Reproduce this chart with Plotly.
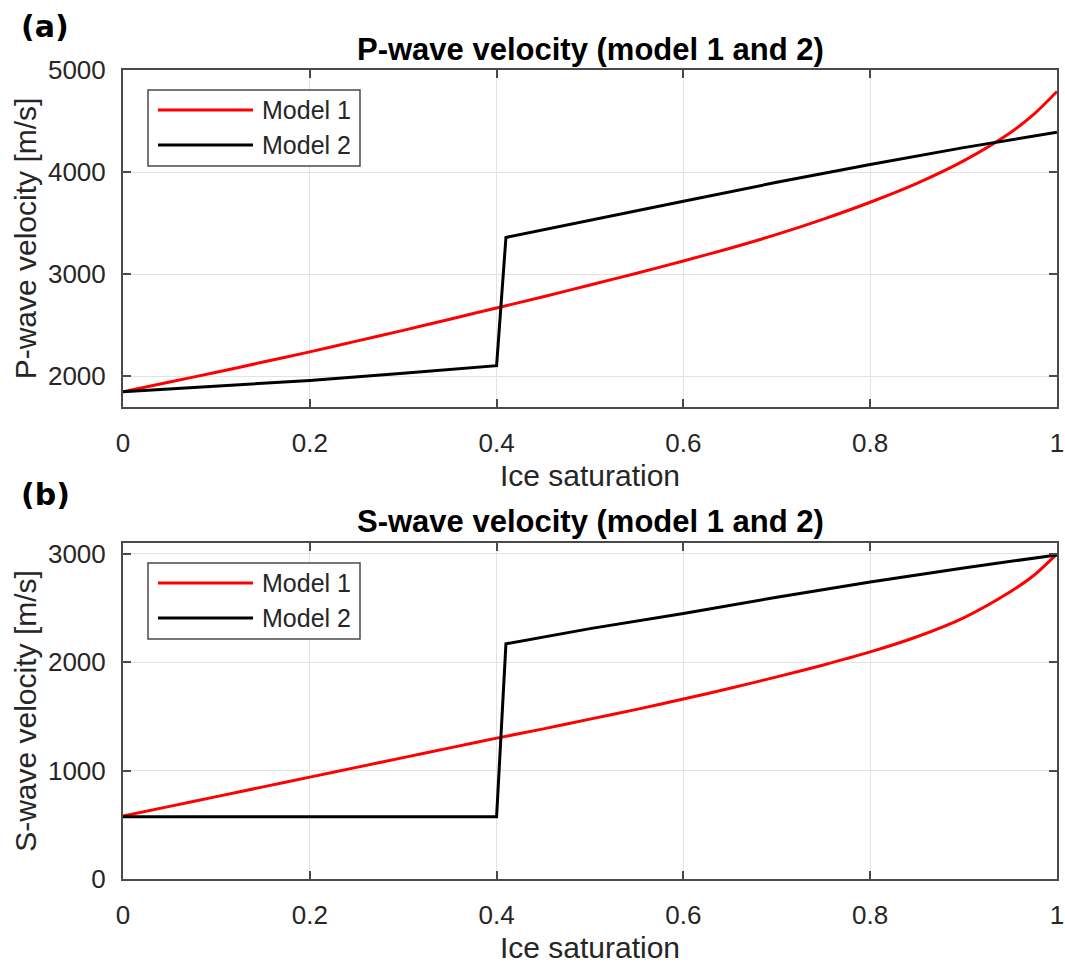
import plotly.graph_objects as go

# ---------------- data ----------------
sat_m1 = [0, 0.05, 0.1, 0.15, 0.2, 0.25, 0.3, 0.35, 0.4, 0.45, 0.5, 0.55, 0.6, 0.65,
          0.7, 0.75, 0.8, 0.85, 0.9, 0.95, 0.975, 1.0]
vp_m1 = [1850, 1945, 2040, 2140, 2240, 2345, 2450, 2560, 2670, 2780, 2895, 3010, 3130, 3255,
         3390, 3540, 3705, 3890, 4110, 4385, 4565, 4790]
vs_m1 = [580, 670, 760, 850, 940, 1030, 1120, 1210, 1300, 1385, 1475, 1565, 1660, 1760,
         1865, 1975, 2095, 2235, 2410, 2650, 2800, 3000]

sat_m2 = [0, 0.1, 0.2, 0.3, 0.4, 0.41, 0.5, 0.6, 0.7, 0.8, 0.9, 1.0]
vp_m2 = [1850, 1905, 1960, 2030, 2105, 3360, 3530, 3715, 3900, 4075, 4240, 4390]
vs_m2 = [575, 575, 575, 575, 575, 2170, 2310, 2450, 2600, 2740, 2870, 2990]

series_names = ["Model 1", "Model 2"]
x_ticks = [0, 0.2, 0.4, 0.6, 0.8, 1]
x_ticklabels = ["0", "0.2", "0.4", "0.6", "0.8", "1"]
p_ticks = [2000, 3000, 4000, 5000]
s_ticks = [0, 1000, 2000, 3000]

W, H = 1065, 965
FONT = "Liberation Sans, Arial, Helvetica, sans-serif"
TXT = "#262626"
AX = "#4a4a4a"
RED = "#ff0000"
BLK = "#000000"


def px(x):
    return x / W


def py(y):
    return 1 - y / H


fig = go.Figure()
fig.add_trace(go.Scatter(x=sat_m1, y=vp_m1, mode="lines", name=series_names[0],
                         line=dict(color=RED, width=3, shape="spline", smoothing=0.8),
                         xaxis="x", yaxis="y", showlegend=False))
fig.add_trace(go.Scatter(x=sat_m2, y=vp_m2, mode="lines", name=series_names[1],
                         line=dict(color=BLK, width=3),
                         xaxis="x", yaxis="y", showlegend=False))
fig.add_trace(go.Scatter(x=sat_m1, y=vs_m1, mode="lines", name=series_names[0],
                         line=dict(color=RED, width=3, shape="spline", smoothing=0.8),
                         xaxis="x2", yaxis="y2", showlegend=False))
fig.add_trace(go.Scatter(x=sat_m2, y=vs_m2, mode="lines", name=series_names[1],
                         line=dict(color=BLK, width=3),
                         xaxis="x2", yaxis="y2", showlegend=False))

xdom = [px(123), px(1057)]
axis_common = dict(
    automargin=False,
    showline=True, linecolor=AX, linewidth=2, mirror="ticks",
    ticks="inside", ticklen=8, tickwidth=1.5, tickcolor=AX,
    showgrid=True, gridcolor="#e3e3e3", gridwidth=1,
    zeroline=False,
    ticklabeloverflow="allow",
    tickfont=dict(family=FONT, size=26, color=TXT),
)

fig.update_layout(
    width=W, height=H,
    margin=dict(l=0, r=0, t=0, b=0, autoexpand=False),
    showlegend=False,
    paper_bgcolor="white", plot_bgcolor="white",
    xaxis=dict(domain=xdom, anchor="y", range=[0, 1.00001], tickvals=x_ticks,
               ticktext=x_ticklabels, ticklabelstandoff=12,
               title=dict(text="Ice saturation", font=dict(family=FONT, size=30, color=TXT), standoff=8),
               **axis_common),
    yaxis=dict(domain=[py(407), py(70)], anchor="x", range=[1700, 5000], tickvals=p_ticks,
               ticklabelstandoff=10,
               title=dict(text="P-wave velocity [m/s]", font=dict(family=FONT, size=30, color=TXT), standoff=2),
               **axis_common),
    xaxis2=dict(domain=xdom, anchor="y2", range=[0, 1.00001], tickvals=x_ticks,
                ticktext=x_ticklabels, ticklabelstandoff=12,
                title=dict(text="Ice saturation", font=dict(family=FONT, size=30, color=TXT), standoff=8),
                **axis_common),
    yaxis2=dict(domain=[py(879), py(543)], anchor="x2", range=[0, 3100], tickvals=s_ticks,
                ticklabelstandoff=10,
                title=dict(text="S-wave velocity [m/s]", font=dict(family=FONT, size=30, color=TXT), standoff=2),
                **axis_common),
)

annotations = []
shapes = []

# panel titles
for text, yc in [("P-wave velocity (model 1 and 2)", 49), ("S-wave velocity (model 1 and 2)", 521)]:
    annotations.append(dict(text="<b>%s</b>" % text, x=px(590), y=py(yc), xref="paper", yref="paper",
                            xanchor="center", yanchor="middle", showarrow=False,
                            font=dict(family=FONT, size=31, color="#000000")))

# panel labels
for text, yc in [("(a)", 26), ("(b)", 494)]:
    annotations.append(dict(text="<b>%s</b>" % text, x=px(19), y=py(yc), xref="paper", yref="paper",
                            xanchor="left", yanchor="middle", showarrow=False,
                            font=dict(family="DejaVu Sans, Verdana, sans-serif", size=30, color="#000000")))

# custom legends (MATLAB style, long line samples)
for off in [0, 473]:
    shapes.append(dict(type="rect", xref="paper", yref="paper",
                       x0=px(148), x1=px(360), y0=py(166 + off), y1=py(90 + off),
                       line=dict(color=AX, width=1.5), fillcolor="white", layer="above"))
    for name, color, yc in [(series_names[0], RED, 110), (series_names[1], BLK, 145)]:
        shapes.append(dict(type="line", xref="paper", yref="paper",
                           x0=px(158), x1=px(253), y0=py(yc + off), y1=py(yc + off),
                           line=dict(color=color, width=3), layer="above"))
        annotations.append(dict(text=name, x=px(260), y=py(yc + off), xref="paper", yref="paper",
                                xanchor="left", yanchor="middle", showarrow=False,
                                font=dict(family=FONT, size=25, color=TXT)))

fig.update_layout(annotations=annotations, shapes=shapes)

fig.write_html("out.html")
